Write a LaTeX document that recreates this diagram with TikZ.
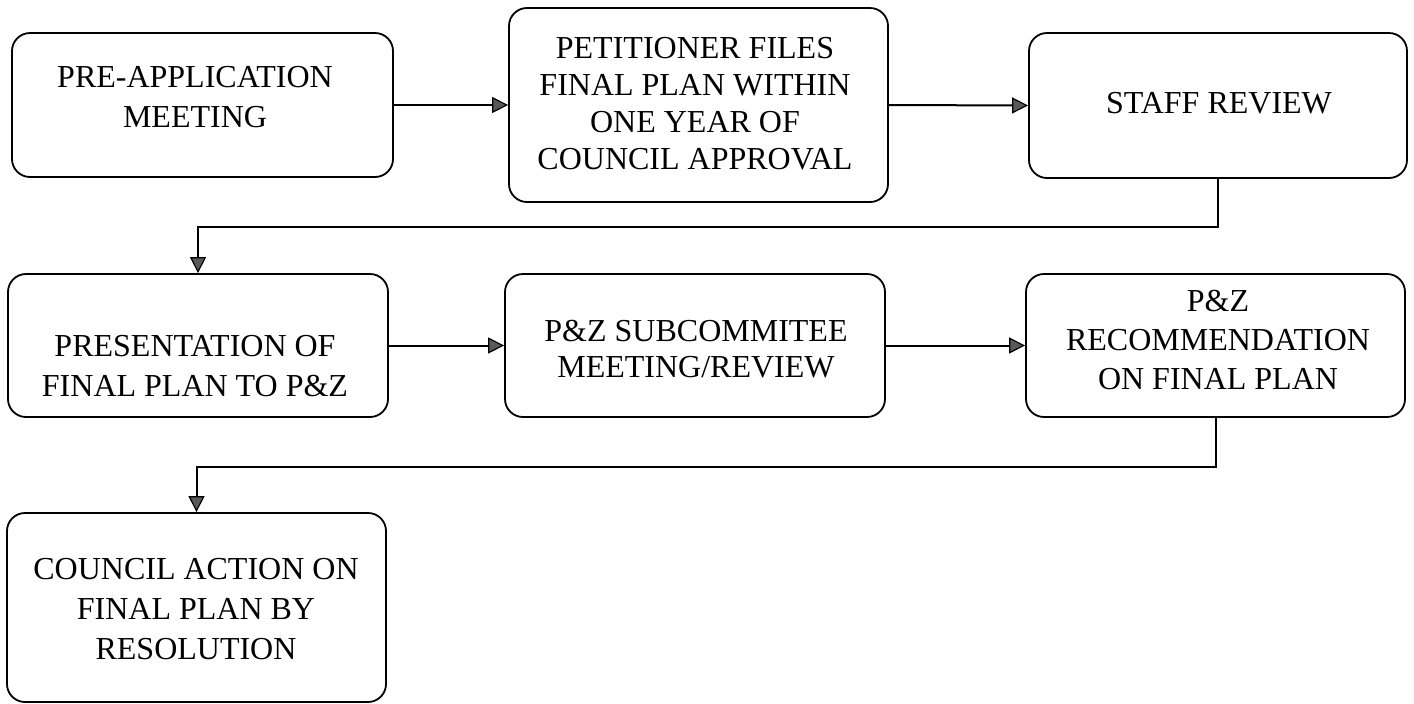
\documentclass[tikz,border=0pt]{standalone}
\usepackage{fontspec}
\setmainfont{Liberation Serif}
\usetikzlibrary{arrows.meta,fit}
\begin{document}
\begin{tikzpicture}[x=0.5pt,y=-0.5pt,
  box/.style={draw, line width=0.9pt, rounded corners=9pt, inner sep=0pt},
  lbl/.style={align=center, inner sep=0pt, font=\fontsize{16}{20}\selectfont},
  arr/.style={line width=1pt, -{Triangle[length=8pt,width=8pt,fill=gray!70!black,line width=0.6pt]}}]
\useasboundingbox (0,0) rectangle (1414,703);
% boxes
\node[box, fit={(12,33) (393,177)}] (b1) {};
\node[box, fit={(509,8) (888,202)}] (b2) {};
\node[box, fit={(1029,33) (1407,178)}] (b3) {};
\node[box, fit={(8,274) (388,417)}] (b4) {};
\node[box, fit={(505,274) (885,417)}] (b5) {};
\node[box, fit={(1026,274) (1405,417)}] (b6) {};
\node[box, fit={(7,513) (386,702)}] (b7) {};
% labels
\node[lbl] (t1) at (195,97) {PRE-APPLICATION\\MEETING};
\node[lbl, font=\fontsize{16}{18.5}\selectfont] (t2) at (695,104) {PETITIONER FILES\\FINAL PLAN WITHIN\\ONE YEAR OF\\COUNCIL APPROVAL};
\node[lbl] (t3) at (1219,103) {STAFF REVIEW};
\node[lbl] (t4) at (195,366) {PRESENTATION OF\\FINAL PLAN TO P\&Z};
\node[lbl, font=\fontsize{16}{18}\selectfont] (t5) at (696,349) {P\&Z SUBCOMMITEE\\MEETING/REVIEW};
\node[lbl, font=\fontsize{16}{19.5}\selectfont] (t6) at (1218,340) {P\&Z\\RECOMMENDATION\\ON FINAL PLAN};
\node[lbl] (t7) at (196,609) {COUNCIL ACTION ON\\FINAL PLAN BY\\RESOLUTION};
% connectors
\coordinate (c1) at (700,227);
\coordinate (c2) at (700,467);
\draw[arr] (b1.east) -- (b2.west);
\draw[arr] (b2.east) -- (b3.west);
\draw[arr] (b3.south) |- (c1) -| (b4.north);
\draw[arr] (b4.east) -- (b5.west);
\draw[arr] (b5.east) -- (b6.west);
\draw[arr] (b6.south) |- (c2) -| (b7.north);
\end{tikzpicture}
\end{document}
